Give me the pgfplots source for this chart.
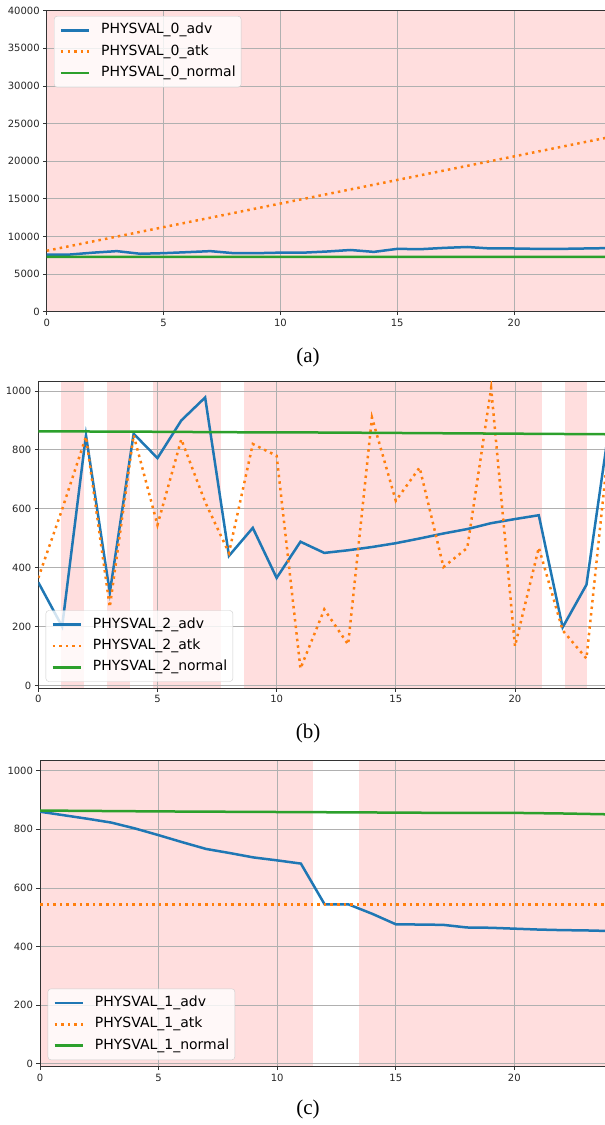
\documentclass[border=0pt]{standalone}
\usepackage{pgfplots}
\pgfplotsset{compat=1.18}
\usepackage{fontspec}
\setmainfont{DejaVu Sans}
\newfontfamily\capfont{Liberation Serif}
\definecolor{tblue}{HTML}{1F77B4}
\definecolor{torange}{HTML}{FF7F0E}
\definecolor{tgreen}{HTML}{2CA02C}
\definecolor{pinkbg}{RGB}{255,222,222}
\definecolor{gridc}{HTML}{B0B0B0}
\definecolor{legc}{HTML}{CCCCCC}
\pgfplotsset{
  mystyle/.style={
    scale only axis, set layers,
    xmin=0, xmax=24,
    xtick={0,5,10,15,20},
    grid=major,
    major grid style={gridc, line width=0.8pt},
    axis line style={black!80, line width=0.8pt},
    tick align=outside, major tick length=3.5pt,
    tick style={black!80, line width=0.8pt},
    tick pos=left,
    every tick label/.append style={font=\fontsize{10}{12}\selectfont, text=black!85},
    /pgf/number format/assume math mode=true,
    /pgf/number format/1000 sep={},
    scaled ticks=false,
    legend cell align=left,
    legend image code/.code={\draw[##1, line width=2.5pt] (0pt,0pt) -- (28pt,0pt);},
    legend style={draw=legc, rounded corners=3pt, fill=white,
      fill opacity=0.8, text opacity=1, font=\fontsize{14}{16}\selectfont,
      inner xsep=5.5pt, inner ysep=7.2pt, row sep=7.3pt, column sep=11pt,
      nodes={inner sep=0pt, text height=10.5pt, text depth=3.5pt}},
  },
  advs/.style={tblue, line width=2.5pt},
  atks/.style={torange, line width=2.5pt, dash pattern=on 2.5pt off 4.1pt},
  norms/.style={tgreen, line width=2.5pt},
}
\begin{document}
\begin{tikzpicture}
% ---------------- (a)
\begin{axis}[mystyle,
  at={(46.7pt,-311.7pt)}, anchor=south west,
  width=560.8pt, height=301pt,
  ymin=0, ymax=40000,
  ytick={0,5000,10000,15000,20000,25000,30000,35000,40000},
  axis background/.style={fill=pinkbg},
  legend style={at={(axis description cs:0,1)}, anchor=north west, xshift=7.3pt, yshift=-5.3pt},
]
\addplot[advs] coordinates {(0,7600)(1,7600)(2,7850)(3,8050)(4,7700)(5,7780)(6,7910)(7,8050)(8,7780)(9,7780)(10,7850)(11,7850)(12,8000)(13,8200)(14,7950)(15,8350)(16,8310)(17,8480)(18,8600)(19,8400)(20,8400)(21,8350)(22,8350)(23,8400)(24,8450)};
\addplot[atks] coordinates {(0,8100)(1,8727)(2,9354)(3,9981)(4,10608)(5,11235)(6,11862)(7,12489)(8,13116)(9,13743)(10,14370)(11,14997)(12,15624)(13,16251)(14,16878)(15,17505)(16,18132)(17,18759)(18,19386)(19,20013)(20,20640)(21,21267)(22,21894)(23,22521)(24,23148)};
\addplot[norms] coordinates {(0,7300)(4,7295)(8,7290)(12,7285)(16,7280)(20,7275)(24,7270)};
\legend{PHYSVAL\_0\_adv, PHYSVAL\_0\_atk, PHYSVAL\_0\_normal}
\end{axis}
\node[font=\capfont\fontsize{21}{24}\selectfont] at (308pt,-357.5pt) {(a)};
% ---------------- (b)
\begin{axis}[mystyle,
  at={(38.3pt,-688.3pt)}, anchor=south west,
  width=572pt, height=307.3pt,
  ymin=-10, ymax=1034,
  ytick={0,200,400,600,800,1000},
  legend style={at={(axis description cs:0,0)}, anchor=south west, xshift=7.4pt, yshift=6.6pt},
]
\begin{pgfonlayer}{axis background}
\fill[pinkbg] (axis cs:0.96,-10) rectangle (axis cs:1.92,1034);
\fill[pinkbg] (axis cs:2.88,-10) rectangle (axis cs:3.84,1034);
\fill[pinkbg] (axis cs:4.80,-10) rectangle (axis cs:7.68,1034);
\fill[pinkbg] (axis cs:8.64,-10) rectangle (axis cs:21.12,1034);
\fill[pinkbg] (axis cs:22.08,-10) rectangle (axis cs:23.04,1034);
\end{pgfonlayer}
\addplot[advs] coordinates {(0,350)(1,200)(2,850)(3,315)(4,855)(5,772)(6,900)(7,978)(8,440)(9,535)(10,365)(11,488)(12,450)(13,459)(14,470)(15,483)(16,499)(17,516)(18,531)(19,551)(20,565)(21,578)(22,197)(23,342)(24,905)};
\addplot[atks] coordinates {(0,365)(1,598)(2,845)(3,266)(4,850)(5,545)(6,836)(7,623)(8,450)(9,820)(10,780)(11,57)(12,258)(13,139)(14,910)(15,627)(16,740)(17,402)(18,467)(19,1010)(20,133)(21,468)(22,187)(23,91)(24,870)};
\addplot[norms] coordinates {(0,863)(4,862)(8,860)(12,859)(16,857)(20,855)(24,853)};
\legend{PHYSVAL\_2\_adv, PHYSVAL\_2\_atk, PHYSVAL\_2\_normal}
\end{axis}
\node[font=\capfont\fontsize{21}{24}\selectfont] at (308pt,-733pt) {(b)};
% ---------------- (c)
\begin{axis}[mystyle,
  at={(40pt,-1066.7pt)}, anchor=south west,
  width=569.2pt, height=306pt,
  ymin=-10, ymax=1034,
  ytick={0,200,400,600,800,1000},
  axis background/.style={fill=pinkbg},
  legend style={at={(axis description cs:0,0)}, anchor=south west, xshift=7.7pt, yshift=6.7pt},
]
\begin{pgfonlayer}{axis background}
\fill[white] (axis cs:11.52,-10) rectangle (axis cs:13.44,1034);
\end{pgfonlayer}
\addplot[advs] coordinates {(0,860)(1,848)(2,836)(3,823)(4,803)(5,780)(6,756)(7,733)(8,719)(9,704)(10,694)(11,683)(12,544)(13,544)(14,512)(15,476)(16,475)(17,474)(18,465)(19,464)(20,461)(21,458)(22,456)(23,455)(24,453)};
\addplot[atks] coordinates {(0,543)(6,543)(12,543)(18,543)(24,543)};
\addplot[norms] coordinates {(0,864)(5,861)(10,859)(15,857)(17,856)(20,856)(22,854)(24,851)};
\legend{PHYSVAL\_1\_adv, PHYSVAL\_1\_atk, PHYSVAL\_1\_normal}
\end{axis}
\node[font=\capfont\fontsize{21}{24}\selectfont] at (308pt,-1109pt) {(c)};
\pgfresetboundingbox
\path[use as bounding box] (0,0) rectangle (605pt,-1125pt);
\end{tikzpicture}
\end{document}
